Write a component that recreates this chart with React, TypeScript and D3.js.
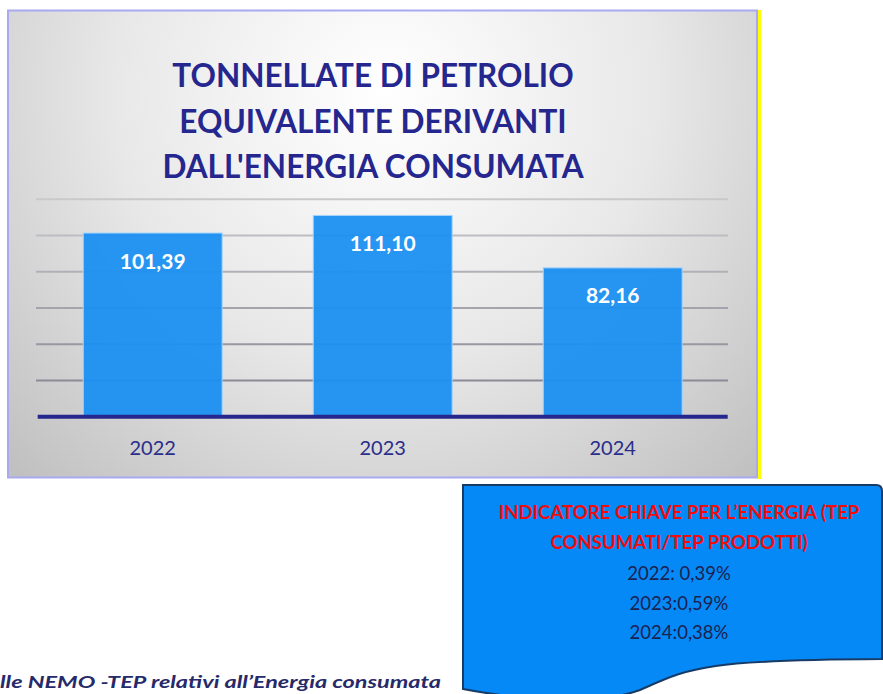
import React from "react";
import * as d3 from "d3";

// chart data
const years = ["2022", "2023", "2024"];
const tepValues = [101.39, 111.1, 82.16];
const gridTicks = [20, 40, 60, 80, 100, 120];
const titleLines = [
  "TONNELLATE DI PETROLIO",
  "EQUIVALENTE DERIVANTI",
  "DALL'ENERGIA CONSUMATA",
];
const indicatorTitle = [
  "INDICATORE CHIAVE PER L\u2019ENERGIA (TEP",
  "CONSUMATI/TEP PRODOTTI)",
];
const indicatorLines = ["2022: 0,39%", "2023:0,59%", "2024:0,38%"];
const footnote = "lle NEMO -TEP relativi all\u2019Energia consumata";

const W = 883;
const H = 694;
const FONT = "Lato, 'Open Sans', sans-serif";

// italian number format (comma decimal)
const itFormat = d3.formatLocale({
  decimal: ",",
  thousands: ".",
  grouping: [3],
  currency: ["", "\u20ac"],
}).format(".2f");

export default function App() {
  const x = d3
    .scaleBand<string>()
    .domain(years)
    .range([37.7, 727.7])
    .paddingInner(0.396)
    .paddingOuter(0.198);

  const y = d3.scaleLinear().domain([0, 120]).range([416.7, 199.3]);

  // lower gridlines look darker than upper ones
  const gridColor = d3
    .scaleLinear<string>()
    .domain([20, 120])
    .range(["#8d8a97", "#c9c9cc"]);

  // document shape of the indicator box
  const boxPath =
    "M463,485 L876,485 Q882,485 882,491 L882,659 C700,660 690,668 640,690 C600,705 520,700 463,689 Z";

  return (
    <svg
      width={W}
      height={H}
      style={{ position: "absolute", left: 0, top: 0, display: "block" }}
      fontFamily={FONT}
    >
      <defs>
        <radialGradient
          id="bg"
          gradientUnits="userSpaceOnUse"
          cx={385}
          cy={90}
          r={540}
        >
          <stop offset="0" stopColor="#ffffff" />
          <stop offset="0.5" stopColor="#e8e8e8" />
          <stop offset="1" stopColor="#bfbfbf" />
        </radialGradient>
      </defs>

      <rect x={0} y={0} width={W} height={H} fill="#ffffff" />

      {/* chart frame */}
      <rect
        x={8}
        y={10.5}
        width={749}
        height={467}
        fill="url(#bg)"
        stroke="#a9a9f0"
        strokeWidth={2}
      />
      <rect x={758} y={10} width={3} height={469} fill="#ffff00" />

      {/* title */}
      {titleLines.map((t, i) => (
        <text
          key={t}
          x={373}
          y={87 + i * 45.5}
          textAnchor="middle"
          fontSize={31.5}
          fontWeight="bold"
          fill="#25278f"
        >
          {t}
        </text>
      ))}

      {/* gridlines */}
      {gridTicks.map((v) => (
        <line
          key={v}
          x1={36}
          x2={728}
          y1={y(v)}
          y2={y(v)}
          stroke={gridColor(v)}
          strokeWidth={2}
        />
      ))}

      {/* bars */}
      {years.map((yr, i) => (
        <g key={yr}>
          <rect
            x={x(yr)}
            y={y(tepValues[i])}
            width={x.bandwidth()}
            height={y(0) - y(tepValues[i])}
            fill="#1a8ff2"
            fillOpacity={0.94}
            stroke="#a8d4fa"
            strokeWidth={1}
          />
          <text
            x={(x(yr) as number) + x.bandwidth() / 2}
            y={y(tepValues[i]) + 35.5}
            textAnchor="middle"
            fontSize={21}
            fontWeight="bold"
            fill="#ffffff"
          >
            {itFormat(tepValues[i])}
          </text>
          <text
            x={(x(yr) as number) + x.bandwidth() / 2}
            y={455.3}
            textAnchor="middle"
            fontSize={20}
            fill="#2a2d8a"
          >
            {yr}
          </text>
        </g>
      ))}

      {/* x axis line */}
      <line
        x1={37.7}
        x2={727.7}
        y1={y(0)}
        y2={y(0)}
        stroke="#25278f"
        strokeWidth={4}
      />

      {/* indicator box */}
      <path d={boxPath} fill="#0589f7" stroke="#173b66" strokeWidth={2} />
      {indicatorTitle.map((t, i) => (
        <text
          key={t}
          x={679}
          y={519 + i * 30.3}
          textAnchor="middle"
          fontSize={18.6}
          fontWeight="bold"
          fill="#f00c0c"
        >
          {t}
        </text>
      ))}
      {indicatorLines.map((t, i) => (
        <text
          key={t}
          x={679}
          y={580 + i * 29.5}
          textAnchor="middle"
          fontSize={18.5}
          fill="#1b2250"
        >
          {t}
        </text>
      ))}

      {/* footnote at the page edge */}
      <text
        x={0}
        y={688}
        fontSize={17.5}
        fontWeight="bold"
        fontStyle="italic"
        fill="#262a6a"
        textLength={441}
        lengthAdjust="spacingAndGlyphs"
      >
        {footnote}
      </text>
    </svg>
  );
}
